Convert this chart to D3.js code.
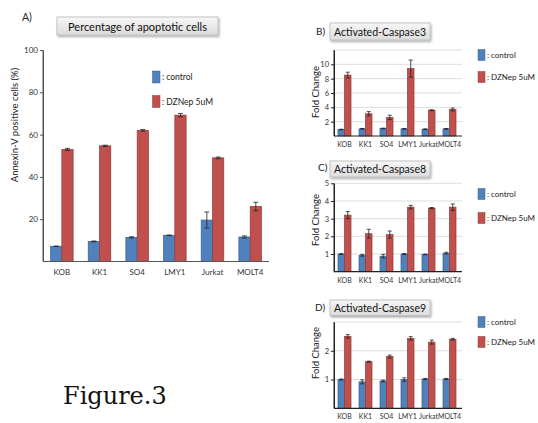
<!DOCTYPE html>
<html><head><meta charset="utf-8">
<script src="https://cdn.jsdelivr.net/npm/d3@7"></script>
<style>
body{margin:0;background:#fff;}
svg{display:block;font-family:Lato,"Liberation Sans",sans-serif;}
</style></head>
<body>
<svg id="c" width="538" height="423"></svg>
<script>
const categories = ["KOB","KK1","SO4","LMY1","Jurkat","MOLT4"];
const seriesNames = [": control", ": DZNep 5uM"];

// Panel A: Percentage of apoptotic cells
const apopControl = [7.2, 9.5, 11.4, 12.4, 19.6, 11.6];
const apopControlErr = [0.1, 0.2, 0.3, 0.1, 3.8, 0.5];
const apopDZNep = [53.0, 54.7, 62.0, 69.2, 49.0, 26.0];
const apopDZNepErr = [0.5, 0.3, 0.4, 0.8, 0.4, 2.0];
const apopTicks = [20, 40, 60, 80, 100];

// Panel B: Activated-Caspase3
const casp3Control = [0.9, 1.0, 1.05, 1.0, 0.95, 1.0];
const casp3ControlErr = [0.05, 0.05, 0.05, 0.05, 0.05, 0.05];
const casp3DZNep = [8.5, 3.1, 2.6, 9.4, 3.6, 3.7];
const casp3DZNepErr = [0.4, 0.3, 0.3, 1.2, 0.05, 0.2];
const casp3Ticks = [2, 4, 6, 8, 10];
const casp3Grid = [2, 4, 6, 8, 10, 12];

// Panel C: Activated-Caspase8
const casp8Control = [1.0, 0.93, 0.88, 1.0, 0.98, 1.05];
const casp8ControlErr = [0.02, 0.05, 0.1, 0.03, 0.02, 0.05];
const casp8DZNep = [3.2, 2.15, 2.1, 3.65, 3.6, 3.65];
const casp8DZNepErr = [0.2, 0.25, 0.2, 0.1, 0.03, 0.18];
const casp8Ticks = [1, 2, 3, 4, 5];

// Panel D: Activated-Caspase9
const casp9Control = [1.0, 0.92, 0.95, 1.0, 1.02, 1.02];
const casp9ControlErr = [0.02, 0.07, 0.03, 0.06, 0.02, 0.02];
const casp9DZNep = [2.5, 1.62, 1.8, 2.43, 2.3, 2.4];
const casp9DZNepErr = [0.06, 0.02, 0.05, 0.06, 0.07, 0.03];
const casp9Ticks = [1, 2];
const casp9Grid = [1, 2, 3];

const colors = ["#4F81BD", "#C0504D"];
const strokes = ["#3A6090", "#8E3B39"];

const svg = d3.select("#c");
const defs = svg.append("defs");
const g1 = defs.append("linearGradient").attr("id","boxg").attr("x1",0).attr("y1",0).attr("x2",0).attr("y2",1);
g1.append("stop").attr("offset","0%").attr("stop-color","#f7f7f7");
g1.append("stop").attr("offset","100%").attr("stop-color","#dcdcdc");
const f = defs.append("filter").attr("id","sh").attr("x","-10%").attr("y","-30%").attr("width","130%").attr("height","180%");
f.append("feDropShadow").attr("dx",1).attr("dy",1.5).attr("stdDeviation",1.2).attr("flood-color","#000").attr("flood-opacity",0.35);

function titleBox(x0, y0, w, h, text, fs) {
  svg.append("rect").attr("x",x0).attr("y",y0).attr("width",w).attr("height",h)
    .attr("fill","url(#boxg)").attr("stroke","#b8b8b8").attr("stroke-width",0.8).attr("filter","url(#sh)");
  svg.append("text").attr("x",x0+w/2).attr("y",y0+h/2).attr("text-anchor","middle")
    .attr("dominant-baseline","central").attr("font-size",fs).attr("fill","#111").text(text);
}

function panel(o) {
  const x = d3.scaleBand().domain(categories).range([o.x0, o.x1]).paddingInner(0).paddingOuter(0);
  const inner = d3.scaleBand().domain([0,1]).range([0, x.bandwidth()*o.pairFrac]);
  const y = d3.scaleLinear().domain([0, o.max]).range([o.y0, o.y1]);
  const g = svg.append("g");
  if (o.grid) {
    g.append("g").selectAll("line").data(o.grid).join("line")
      .attr("x1", o.x0).attr("x2", o.gridEnd).attr("y1", d=>y(d)).attr("y2", d=>y(d))
      .attr("stroke","#d4d4d4").attr("stroke-width",0.8);
  }
  const series = [o.ctrl, o.dz];
  const errs = [o.ctrlErr, o.dzErr];
  series.forEach((vals, s) => {
    const off = (x.bandwidth() - x.bandwidth()*o.pairFrac)/2;
    g.append("g").selectAll("rect").data(vals).join("rect")
      .attr("x", (d,i)=> x(categories[i]) + off + inner(s))
      .attr("y", d=>y(d)).attr("width", inner.bandwidth()).attr("height", d=>y(0)-y(d))
      .attr("fill", colors[s]).attr("stroke", strokes[s]).attr("stroke-width",0.7);
    const eg = g.append("g").attr("stroke","#222").attr("stroke-width",0.8);
    vals.forEach((d,i) => {
      const cx = x(categories[i]) + off + inner(s) + inner.bandwidth()/2;
      const e = errs[s][i];
      eg.append("line").attr("x1",cx).attr("x2",cx).attr("y1",y(d+e)).attr("y2",y(d-e));
      eg.append("line").attr("x1",cx-o.cap).attr("x2",cx+o.cap).attr("y1",y(d+e)).attr("y2",y(d+e));
      eg.append("line").attr("x1",cx-o.cap).attr("x2",cx+o.cap).attr("y1",y(d-e)).attr("y2",y(d-e));
    });
  });
  const ya = g.append("g").attr("transform",`translate(${o.x0},0)`)
    .call(d3.axisLeft(y).tickValues(o.ticks).tickFormat(d3.format("d")).tickSize(3).tickPadding(2).tickSizeOuter(0));
  ya.select(".domain").attr("stroke", o.axisColor).attr("stroke-width",1);
  ya.selectAll(".tick line").attr("stroke", o.axisColor);
  ya.selectAll("text").attr("font-size", o.tickFs).attr("fill","#333").attr("font-family","Lato,sans-serif");
  g.append("line").attr("x1",o.x0).attr("x2",o.x0).attr("y1",y(0)).attr("y2",y(o.max)).attr("stroke",o.axisColor).attr("stroke-width",1);
  const xa = g.append("g").attr("transform",`translate(0,${y(0)})`)
    .call(d3.axisBottom(x).tickSize(0).tickPadding(o.xPad));
  xa.select(".domain").attr("stroke", o.axisColor).attr("stroke-width",1.2).attr("d",`M${o.x0},0H${o.gridEnd}`);
  xa.selectAll("text").attr("font-size", o.xFs).attr("fill","#333").attr("font-family","Lato,sans-serif");
  svg.append("text").attr("transform",`translate(${o.ylx},${o.yly}) rotate(-90)`)
    .attr("text-anchor","middle").attr("dominant-baseline","central")
    .attr("font-size", o.ylFs).attr("fill","#222").text(o.ylabel);
  o.legY.forEach((ly, s) => {
    svg.append("rect").attr("x", o.legX).attr("y", ly - o.legH/2).attr("width", o.legW).attr("height", o.legH)
      .attr("fill", colors[s]).attr("stroke", strokes[s]).attr("stroke-width",0.5);
    svg.append("text").attr("x", o.legX + o.legW + 2).attr("y", ly).attr("dominant-baseline","central")
      .attr("font-size", o.legFs).attr("fill","#222").text(seriesNames[s]);
  });
}

// Panel A
svg.append("text").attr("x",22).attr("y",17).attr("dominant-baseline","central").attr("font-size",10.5).attr("fill","#222").text("A)");
titleBox(57, 17, 161, 18, "Percentage of apoptotic cells", 11);
panel({x0:43, x1:269, y0:261.5, y1:50, max:100, pairFrac:0.6, ctrl:apopControl, ctrlErr:apopControlErr,
  dz:apopDZNep, dzErr:apopDZNepErr, ticks:apopTicks, grid:null, gridEnd:269, cap:2.5,
  axisColor:"#555", tickFs:8, xFs:8, xPad:8, ylabel:"Annexin-V positive cells (%)", ylx:14, yly:125, ylFs:9.5,
  legX:152.5, legW:7.5, legH:12, legY:[77, 101.5], legFs:8.5});

// Panel B
svg.append("text").attr("x",316).attr("y",31).attr("dominant-baseline","central").attr("font-size",10).attr("fill","#222").text("B)");
titleBox(330, 23, 100, 17, "Activated-Caspase3", 10.5);
panel({x0:334, x1:460, y0:136, y1:50, max:12, pairFrac:0.62, ctrl:casp3Control, ctrlErr:casp3ControlErr,
  dz:casp3DZNep, dzErr:casp3DZNepErr, ticks:casp3Ticks, grid:casp3Grid, gridEnd:462, cap:2,
  axisColor:"#222", tickFs:7.5, xFs:7, xPad:6, ylabel:"Fold Change", ylx:315, yly:92, ylFs:9.5,
  legX:478, legW:7, legH:11, legY:[55, 77], legFs:8});

// Panel C
svg.append("text").attr("x",318).attr("y",167).attr("dominant-baseline","central").attr("font-size",10).attr("fill","#222").text("C)");
titleBox(330, 161, 100, 16, "Activated-Caspase8", 10.5);
panel({x0:334, x1:460, y0:271.7, y1:183.3, max:5, pairFrac:0.62, ctrl:casp8Control, ctrlErr:casp8ControlErr,
  dz:casp8DZNep, dzErr:casp8DZNepErr, ticks:casp8Ticks, grid:casp8Ticks, gridEnd:462, cap:2,
  axisColor:"#222", tickFs:7.5, xFs:7, xPad:6, ylabel:"Fold Change", ylx:315, yly:220, ylFs:9.5,
  legX:478, legW:7, legH:11, legY:[194, 218], legFs:8});

// Panel D
svg.append("text").attr("x",315).attr("y",307).attr("dominant-baseline","central").attr("font-size",10).attr("fill","#222").text("D)");
titleBox(330, 300, 100, 15.5, "Activated-Caspase9", 10.5);
panel({x0:334, x1:460, y0:408.3, y1:322, max:3, pairFrac:0.62, ctrl:casp9Control, ctrlErr:casp9ControlErr,
  dz:casp9DZNep, dzErr:casp9DZNepErr, ticks:casp9Ticks, grid:casp9Grid, gridEnd:462, cap:2,
  axisColor:"#222", tickFs:7.5, xFs:7, xPad:6, ylabel:"Fold Change", ylx:315, yly:353, ylFs:9.5,
  legX:478, legW:7, legH:11, legY:[322, 342], legFs:8});

// Figure label
svg.append("text").attr("x",63).attr("y",404).attr("font-family","'DejaVu Serif',serif").attr("font-size",24).attr("fill","#111").text("Figure.3");
</script>
</body></html>
